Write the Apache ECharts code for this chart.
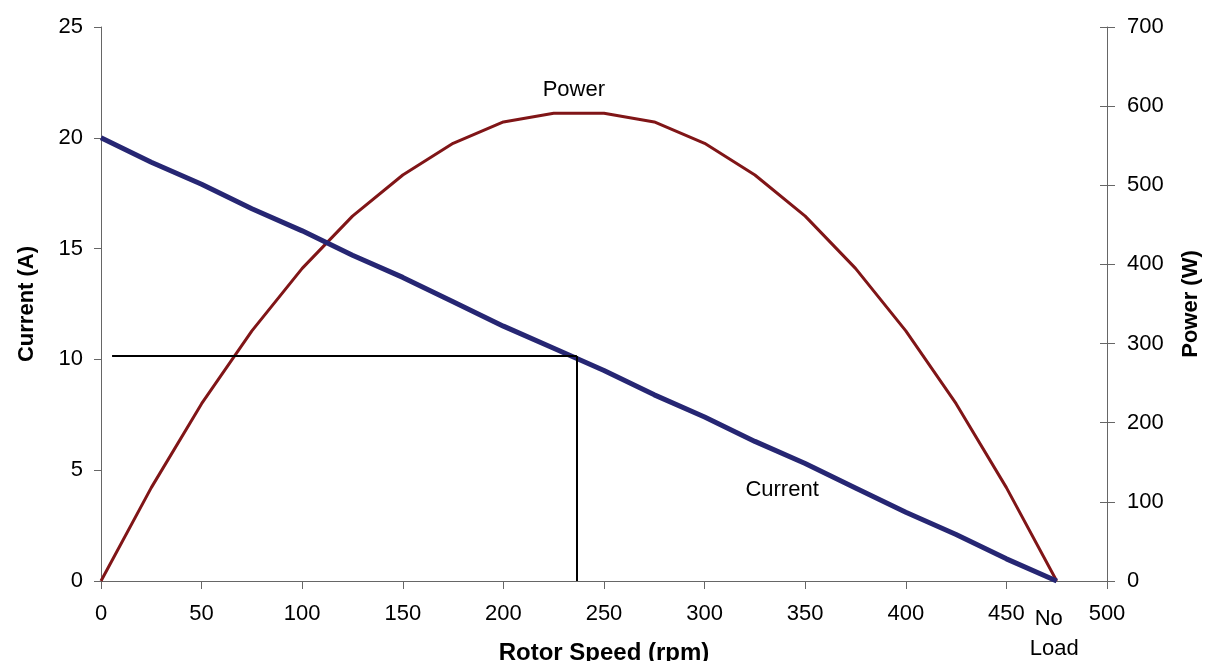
<!DOCTYPE html>
<html><head><meta charset="utf-8">
<script src="https://cdn.jsdelivr.net/npm/echarts@6/dist/echarts.min.js"></script>
<style>html,body{margin:0;padding:0;background:#fff}#c{width:1205px;height:661px}</style>
</head><body><div id="c"></div>
<script>
const speeds = [0,25,50,75,100,125,150,175,200,225,250,275,300,325,350,375,400,425,450,475];
const current = [20,18.9,17.9,16.8,15.8,14.7,13.7,12.6,11.5,10.5,9.5,8.4,7.4,6.3,5.3,4.2,3.1,2.1,1.0,0];
const power = [0,118,224,316,395,461,513,553,580,591,591,580,553,513,461,395,316,224,118,0];
const xTicks = {min:0,max:500,interval:50};
const leftTicks = {min:0,max:25,interval:5};
const rightTicks = {min:0,max:700,interval:100};
const opPoint = {speed:236.5, current:10.15, lineStart:5.5};
const noLoad = {speed:475};
const seriesLabels = {power:[235,620], current:[338.5,4.1]};

const font = 'Liberation Sans, Arial, sans-serif';
const chart = echarts.init(document.getElementById('c'), null, {renderer:'canvas'});
const axisLine = {show:true, lineStyle:{color:'#666', width:1}};
const titleStyle = {fontFamily:font, fontWeight:'bold', fontSize:22, color:'#000'};
const labelStyle = {fontFamily:font, fontSize:22, color:'#000'};
function textPoint(coord, text){
  return {symbol:'circle', symbolSize:1, silent:true, itemStyle:{color:'rgba(0,0,0,0)'},
    label:{show:true, position:'inside', formatter:text, fontFamily:font, fontSize:22, color:'#000'},
    data:[{coord:coord}]};
}
chart.setOption({
  animation:false,
  grid:{left:101, right:98, top:27, bottom:80, containLabel:false, outerBoundsMode:'none'},
  xAxis:{type:'value', min:xTicks.min, max:xTicks.max, interval:xTicks.interval,
    name:'Rotor Speed (rpm)', nameLocation:'middle', nameGap:60,
    nameTextStyle:Object.assign({}, titleStyle, {fontSize:24}),
    axisLine:axisLine, axisTick:{show:true, length:8, lineStyle:{color:'#666'}},
    axisLabel:Object.assign({margin:22}, labelStyle),
    splitLine:{show:false}},
  yAxis:[
    {type:'value', min:leftTicks.min, max:leftTicks.max, interval:leftTicks.interval, position:'left',
     name:'Current (A)', nameLocation:'middle', nameGap:63, nameRotate:90,
     nameTextStyle:titleStyle,
     axisLine:axisLine, axisTick:{show:true, length:7, lineStyle:{color:'#666'}},
     axisLabel:Object.assign({margin:18}, labelStyle),
     splitLine:{show:false}},
    {type:'value', min:rightTicks.min, max:rightTicks.max, interval:rightTicks.interval, position:'right',
     name:'Power (W)', nameLocation:'middle', nameGap:73, nameRotate:90,
     nameTextStyle:titleStyle,
     axisLine:axisLine, axisTick:{show:true, length:8, lineStyle:{color:'#666'}},
     axisLabel:Object.assign({margin:20}, labelStyle),
     splitLine:{show:false}},
    {type:'value', min:rightTicks.min, max:rightTicks.max, interval:rightTicks.interval, position:'right', offset:0,
     axisLine:{show:false}, axisTick:{show:true, inside:true, length:7, lineStyle:{color:'#666'}},
     axisLabel:{show:false}, splitLine:{show:false}}
  ],
  series:[
    {type:'line', name:'Power', yAxisIndex:1, data:speeds.map((s,i)=>[s,power[i]]),
     showSymbol:false, symbol:'none', lineStyle:{color:'#801517', width:3}, clip:false, z:3,
     markPoint:textPoint(seriesLabels.power, 'Power')},
    {type:'line', name:'Current', yAxisIndex:0, data:speeds.map((s,i)=>[s,current[i]]),
     showSymbol:false, symbol:'none', lineStyle:{color:'#262673', width:5}, clip:false, z:4,
     markPoint:textPoint(seriesLabels.current, 'Current'),
     markLine:{symbol:'none', silent:true, animation:false, label:{show:false},
       lineStyle:{color:'#000', width:2, type:'solid'},
       data:[
         [{coord:[opPoint.lineStart, opPoint.current]},{coord:[opPoint.speed, opPoint.current]}],
         [{coord:[opPoint.speed, opPoint.current]},{coord:[opPoint.speed, 0]}],
         [{coord:[noLoad.speed, 0.45]},{coord:[noLoad.speed, -0.9]}]
       ]}}
  ]
});
const p = chart.convertToPixel({xAxisIndex:0, yAxisIndex:0}, [noLoad.speed, 0]);
chart.setOption({graphic:[
  {type:'text', left:p[0]-22, top:p[1]+27, style:{text:'No', font:'22px '+font, fill:'#000'}},
  {type:'text', left:p[0]-27, top:p[1]+57, style:{text:'Load', font:'22px '+font, fill:'#000'}}
]});
</script></body></html>
